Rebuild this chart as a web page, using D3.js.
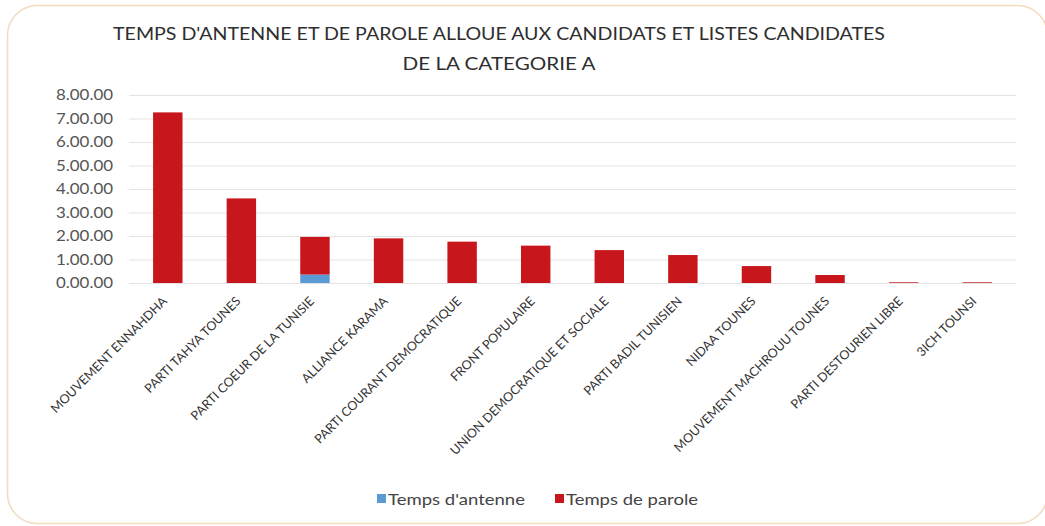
<!DOCTYPE html>
<html>
<head>
<meta charset="utf-8">
<script src="https://cdn.jsdelivr.net/npm/d3@7/dist/d3.min.js"></script>
<style>
  html, body { margin: 0; padding: 0; background: #ffffff; }
  svg { display: block; }
</style>
</head>
<body>
<svg id="chart" width="1045" height="526"></svg>
<script>
const categories = [
  "MOUVEMENT ENNAHDHA",
  "PARTI TAHYA TOUNES",
  "PARTI COEUR DE LA TUNISIE",
  "ALLIANCE KARAMA",
  "PARTI COURANT DEMOCRATIQUE",
  "FRONT POPULAIRE",
  "UNION DEMOCRATIQUE ET SOCIALE",
  "PARTI BADIL TUNISIEN",
  "NIDAA TOUNES",
  "MOUVEMENT MACHROUU TOUNES",
  "PARTI DESTOURIEN LIBRE",
  "3ICH TOUNSI"
];
const tempsAntenne = [0, 0, 0.36, 0, 0, 0, 0, 0, 0, 0, 0, 0];
const tempsParole  = [7.26, 3.6, 1.6, 1.9, 1.76, 1.59, 1.4, 1.19, 0.72, 0.34, 0.03, 0.03];
const tickValues = [0, 1, 2, 3, 4, 5, 6, 7, 8];
const tickLabels = ["0.00.00","1.00.00","2.00.00","3.00.00","4.00.00","5.00.00","6.00.00","7.00.00","8.00.00"];
const seriesNames = ["Temps d'antenne", "Temps de parole"];
const seriesColors = ["#5b9bd5", "#c8161d"];
const titleLines = ["TEMPS D'ANTENNE  ET DE PAROLE ALLOUE AUX CANDIDATS ET LISTES CANDIDATES", "DE LA CATEGORIE A"];

const svg = d3.select("#chart");
const font = "Lato, 'Open Sans', sans-serif";

// frame
svg.append("rect")
  .attr("x", 7.5).attr("y", 5.5)
  .attr("width", 1040).attr("height", 518)
  .attr("rx", 30).attr("ry", 30)
  .attr("fill", "#ffffff")
  .attr("stroke", "#f2dcc0").attr("stroke-width", 1.6);

const margin = { left: 131, right: 1014, top: 95, bottom: 283 };

const x = d3.scaleBand().domain(categories).range([margin.left, margin.right]).paddingInner(0.6).paddingOuter(0.3);
const y = d3.scaleLinear().domain([0, 8]).range([margin.bottom, margin.top]);

// title
const titleWidths = [772, 193];
svg.append("g").selectAll("text").data(titleLines).join("text")
  .attr("x", 499).attr("y", (d, i) => 40 + i * 30)
  .attr("text-anchor", "middle")
  .attr("font-family", font).attr("font-size", 17.5)
  .attr("fill", "#2e2e2e")
  .attr("textLength", (d, i) => titleWidths[i])
  .attr("lengthAdjust", "spacingAndGlyphs")
  .text(d => d);

// grid + y axis
const yAxis = d3.axisLeft(y).tickValues(tickValues)
  .tickFormat((d, i) => tickLabels[i])
  .tickSize(-(margin.right - margin.left + 4)).tickPadding(16);
const gy = svg.append("g").attr("transform", `translate(${margin.left - 2},0)`).call(yAxis);
gy.select(".domain").remove();
gy.selectAll(".tick line").attr("stroke", "#e3e3e3").attr("stroke-width", 1.2);
gy.selectAll(".tick text").attr("font-family", font).attr("font-size", 14.5).attr("fill", "#555555")
  .attr("textLength", 57).attr("lengthAdjust", "spacingAndGlyphs");

// stacked bars
const rows = categories.map((c, i) => ({ cat: c, antenne: tempsAntenne[i], parole: tempsParole[i] }));
const stack = d3.stack().keys(["antenne", "parole"]);
const series = stack(rows);
svg.append("g").selectAll("g").data(series).join("g")
  .attr("fill", (d, i) => seriesColors[i])
  .selectAll("rect").data(d => d).join("rect")
  .attr("x", d => x(d.data.cat))
  .attr("width", x.bandwidth())
  .attr("y", d => y(d[1]))
  .attr("height", d => Math.max(0, y(d[0]) - y(d[1])));

// x axis labels
const xAxis = d3.axisBottom(x).tickSize(0).tickPadding(0);
const gx = svg.append("g").attr("transform", `translate(0,${margin.bottom})`).call(xAxis);
gx.select(".domain").remove();
gx.selectAll(".tick text")
  .attr("font-family", font).attr("font-size", 12.6).attr("fill", "#333333")
  .attr("text-anchor", "end")
  .attr("dy", 0).attr("y", 0)
  .attr("transform", "translate(0,19) rotate(-45)");

// legend
const legend = svg.append("g");
const legX = [377, 555];
const legW = [137, 132];
seriesNames.forEach((n, i) => {
  legend.append("rect").attr("x", legX[i]).attr("y", 494).attr("width", 9).attr("height", 9).attr("fill", seriesColors[i]);
  legend.append("text").attr("x", legX[i] + 11).attr("y", 505)
    .attr("font-family", font).attr("font-size", 16).attr("fill", "#444444")
    .attr("textLength", legW[i]).attr("lengthAdjust", "spacingAndGlyphs")
    .text(n);
});
</script>
</body>
</html>
